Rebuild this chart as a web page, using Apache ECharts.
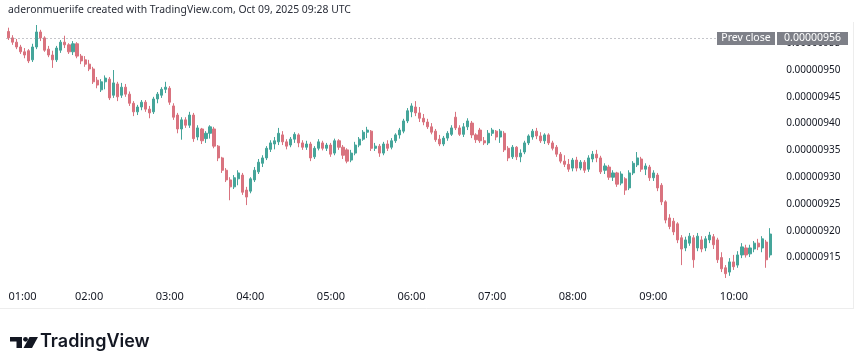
<!DOCTYPE html>
<html><head><meta charset="utf-8">
<script src="https://cdn.jsdelivr.net/npm/echarts@6/dist/echarts.min.js"></script>
<style>html,body{margin:0;padding:0;background:#fff}#c{width:860px;height:362px}</style>
</head><body><div id="c"></div>
<script>
// prices stored in units of 0.00000001
const SCALE = 1e-8;
const PREV_CLOSE = 956;
const titleText = 'aderonmueriife created with TradingView.com, Oct 09, 2025 09:28 UTC';
const START_HOUR = 1, STEP_MIN = 3, N = 190;

const open = [957.2,956.0,955.2,954.3,953.4,953.6,951.9,954.3,957.1,956.0,
953.9,952.8,951.9,953.7,955.2,954.7,953.4,954.9,952.6,951.9,
951.1,950.2,948.1,946.3,947.8,948.3,945.3,947.4,945.3,946.8,
945.5,943.8,942.2,943.1,944.0,942.7,942.2,944.6,945.3,946.4,
946.6,943.3,941.6,939.0,940.7,939.7,941.6,937.5,939.0,937.2,
938.2,939.0,935.8,933.6,931.3,929.5,928.2,929.7,930.4,927.6,
927.4,929.5,931.0,932.6,933.6,935.2,936.2,936.6,937.9,936.6,
936.0,937.1,937.9,936.4,935.6,936.2,933.8,935.4,936.4,935.4,
936.0,934.5,936.8,935.6,935.1,933.2,934.5,936.0,937.1,938.4,
938.6,935.4,935.8,934.5,936.2,935.6,936.8,937.9,938.6,940.5,
942.2,943.1,942.0,941.0,940.3,939.4,938.6,937.1,936.2,937.3,
938.0,941.2,939.2,938.0,939.4,940.1,937.9,938.8,936.8,936.4,
938.2,938.6,937.5,938.2,935.4,933.8,935.6,933.8,934.7,936.4,
937.5,938.6,937.7,936.8,937.9,936.4,935.6,934.3,933.0,932.4,
931.7,933.2,931.7,932.8,931.5,933.4,934.3,933.6,931.3,931.9,
930.0,930.8,928.9,929.7,928.0,930.8,932.3,933.4,931.5,931.9,
929.9,930.4,928.5,925.4,922.4,921.8,921.3,918.7,916.8,917.7,
918.7,916.8,918.3,916.8,918.3,918.9,918.3,915.0,913.1,912.3,
914.2,913.6,915.5,916.8,915.7,916.6,917.7,916.8,917.9,915.5];

const close = [956.0,955.2,954.3,953.4,952.8,951.7,954.3,957.1,956.0,953.7,
952.8,951.9,954.1,955.2,954.7,953.4,954.9,952.6,951.7,951.1,
950.2,947.8,947.2,947.8,948.5,944.8,947.6,945.0,946.8,945.5,
943.8,942.2,943.1,944.0,942.7,942.0,944.6,945.5,946.4,946.8,
944.0,941.2,939.0,940.7,939.7,941.6,937.2,939.2,936.8,938.2,
939.4,935.8,933.6,931.3,929.5,928.2,929.9,930.8,927.2,926.3,
929.7,931.3,932.8,933.6,935.4,936.4,936.8,938.2,936.6,935.8,
937.1,938.0,936.4,935.6,936.2,933.6,935.4,936.6,935.4,936.0,
934.3,936.8,935.6,934.1,933.0,934.5,936.0,937.1,938.4,938.8,
935.4,935.8,934.5,936.2,935.4,936.8,937.9,938.8,940.5,942.4,
943.3,942.0,941.0,940.3,939.4,938.4,937.0,936.2,937.3,938.2,
939.2,939.2,938.0,939.4,940.5,937.9,937.0,936.8,936.4,938.2,
938.8,937.5,938.6,935.1,933.6,935.6,933.8,934.5,936.4,937.7,
938.6,937.7,936.8,937.9,936.4,935.4,934.3,933.0,932.4,931.5,
933.2,931.7,932.8,931.3,933.6,934.3,933.6,931.0,932.1,930.0,
930.8,928.7,930.6,927.6,930.8,932.6,933.6,931.5,932.1,929.9,
930.8,928.0,925.4,922.0,920.8,919.8,918.3,916.6,918.3,919.0,
914.6,919.0,916.6,918.5,919.2,917.4,914.6,912.9,912.0,914.2,
913.3,915.5,917.0,915.5,916.8,917.7,917.0,918.5,914.6,919.4];

const low = [955.6,954.7,953.9,953.0,952.2,951.3,951.5,953.9,955.4,953.4,
952.4,950.4,951.5,953.2,954.1,953.0,952.8,952.2,951.1,950.6,
949.8,947.4,946.6,945.9,946.4,944.4,944.8,944.2,944.8,945.0,
943.3,941.4,941.6,942.5,942.2,941.0,941.8,943.8,944.8,945.7,
943.5,940.7,938.2,937.0,939.2,939.2,936.6,936.9,936.2,936.4,
937.2,935.4,933.0,930.8,929.1,925.7,927.8,928.5,926.7,924.8,
927.0,929.1,930.6,931.9,933.2,934.7,935.2,936.0,936.0,935.2,
935.6,936.4,935.6,935.1,935.1,933.0,933.4,935.0,935.0,934.9,
933.8,934.1,935.1,933.4,932.6,932.8,934.1,935.6,936.8,937.3,
934.9,934.9,933.8,934.1,934.9,935.2,936.4,937.2,938.2,940.1,
941.2,941.4,940.3,939.7,939.0,938.0,936.6,935.8,935.8,936.8,
937.7,938.8,937.7,937.5,938.8,937.3,936.4,936.4,936.0,936.0,
937.7,936.9,936.4,934.7,933.0,933.4,933.2,932.8,934.3,936.0,
937.0,937.1,936.4,936.2,936.0,935.0,933.8,932.6,931.9,931.0,
931.1,931.1,931.3,930.8,931.0,932.8,932.8,930.6,930.6,929.5,
929.3,928.2,928.5,926.7,927.6,930.4,931.9,931.0,930.4,929.3,
929.3,927.4,924.8,921.4,920.3,919.2,917.7,913.6,916.2,917.2,
913.1,916.2,916.0,916.2,917.7,916.6,914.0,912.3,911.2,911.6,
912.7,913.1,914.9,915.0,915.1,916.0,916.4,916.0,913.1,915.0];

const high = [957.9,956.5,955.8,954.7,954.1,953.9,954.9,958.4,957.5,956.3,
954.5,953.6,954.5,955.6,956.4,955.0,955.4,955.2,953.0,952.6,
951.9,950.6,948.7,948.3,949.0,948.7,950.0,947.8,947.6,947.4,
946.0,944.2,943.5,944.4,944.4,943.3,945.0,945.9,946.8,947.8,
947.0,943.8,942.0,941.2,941.2,942.2,942.0,939.7,939.2,938.6,
939.7,939.4,936.0,933.8,931.7,930.0,930.4,931.3,930.8,928.2,
930.0,931.9,933.4,934.1,935.8,936.9,937.5,939.2,938.6,937.1,
937.5,938.4,938.2,936.9,936.8,936.6,935.8,937.1,936.8,936.4,
936.4,937.2,937.1,936.0,935.4,935.1,936.6,937.5,938.8,939.4,
938.8,936.4,936.2,936.6,936.9,937.3,938.2,939.2,940.9,942.9,
943.8,944.2,943.1,941.8,940.9,940.1,939.0,937.9,937.7,938.6,
939.7,942.2,939.7,940.1,941.0,940.5,938.2,939.2,937.5,938.8,
939.2,938.8,939.0,938.6,935.8,936.0,935.8,935.2,936.8,938.0,
939.0,939.2,938.4,938.2,938.2,936.8,936.0,934.7,934.1,933.4,
933.6,933.8,933.2,933.2,934.1,934.9,935.1,934.0,932.6,932.3,
931.3,931.0,931.1,930.0,931.3,933.0,934.7,933.8,932.6,932.3,
931.3,930.8,928.9,925.7,923.1,922.4,921.6,919.2,918.9,919.6,
919.2,919.6,919.0,919.0,919.8,919.4,918.7,916.0,913.6,914.9,
915.5,916.2,917.7,917.4,917.4,918.1,918.5,919.0,918.3,920.5];

const pad = n => (n < 10 ? '0' : '') + n;
const times = [];
for (let i = 0; i < N; i++) {
  const m = START_HOUR * 60 + i * STEP_MIN;
  times.push(pad(Math.floor(m / 60)) + ':' + pad(m % 60));
}
const candles = open.map((o, i) => [o, close[i], low[i], high[i]]);

const W = 860, H = 362;
const gridLeft = 6.5, band = 4.03;
const gridRight = W - gridLeft - band * N;
const gridTop = 21.8, gridBottom = H - 284.4;

const chart = echarts.init(document.getElementById('c'), null, {renderer: 'canvas'});
const FONT = '"Noto Sans", "Open Sans", sans-serif';
const UP = '#45a59a', DOWN = '#d9737f';

chart.setOption({
  animation: false,
  backgroundColor: '#ffffff',
  grid: {left: gridLeft, right: gridRight, top: gridTop, bottom: gridBottom, containLabel: false},
  xAxis: {
    type: 'category', data: times, boundaryGap: true,
    axisLine: {show: false}, axisTick: {show: false}, splitLine: {show: false},
    axisLabel: {
      interval: (idx, val) => val.endsWith(':00'),
      color: '#131722', fontSize: 11, fontFamily: FONT, margin: 7,
      alignMinLabel: 'left'
    }
  },
  yAxis: {
    type: 'value', position: 'right', min: 910, max: 959, interval: 5, scale: true,
    axisLine: {show: false}, axisTick: {show: false}, splitLine: {show: false},
    axisLabel: {
      color: '#131722', fontSize: 10, fontFamily: FONT, margin: 14,
      formatter: v => (Math.abs(v - Math.round(v / 5) * 5) < 0.01 && v >= 915 && v <= 955) ? (v * SCALE).toFixed(8) : ''
    }
  },
  series: [{
    type: 'candlestick', data: candles, barWidth: 2.6,
    itemStyle: {color: UP, color0: DOWN, borderColor: UP, borderColor0: DOWN, borderWidth: 1},
    markLine: {
      silent: true, symbol: 'none', animation: false,
      lineStyle: {type: [1, 3], color: '#8a8d96', width: 1},
      label: {show: false},
      data: [{yAxis: PREV_CLOSE}]
    }
  }]
});

const yPrev = chart.convertToPixel({yAxisIndex: 0}, PREV_CLOSE);
chart.setOption({
  graphic: [
    {type: 'text', left: 8, top: 5, z: 10, style: {text: titleText, fill: '#2a2e39', font: '10.4px ' + FONT}},
    {type: 'rect', z: 20, shape: {x: 717, y: Math.round(yPrev) - 6, width: 58, height: 13}, style: {fill: '#7e8088'}},
    {type: 'text', z: 21, x: 746, y: Math.round(yPrev) + 0.5, style: {text: 'Prev close', fill: '#ffffff', font: '10.5px ' + FONT, textAlign: 'center', textVerticalAlign: 'middle'}},
    {type: 'rect', z: 20, shape: {x: 777, y: Math.round(yPrev) - 6, width: 71, height: 13}, style: {fill: '#7e8088'}},
    {type: 'text', z: 21, x: 812.5, y: Math.round(yPrev) + 0.5, style: {text: (PREV_CLOSE * SCALE).toFixed(8), fill: '#ffffff', font: '10.5px ' + FONT, textAlign: 'center', textVerticalAlign: 'middle'}},
    {type: 'line', z: 5, shape: {x1: 0, y1: 308.5, x2: 853, y2: 308.5}, style: {stroke: '#ededed', lineWidth: 1}},
    {type: 'line', z: 5, shape: {x1: 853.5, y1: 22, x2: 853.5, y2: 309}, style: {stroke: '#ededed', lineWidth: 1}},
    // TradingView logo
    {type: 'rect', z: 10, shape: {x: 10, y: 337, width: 12, height: 4.5}, style: {fill: '#131722'}},
    {type: 'rect', z: 10, shape: {x: 16.5, y: 337, width: 5.5, height: 11}, style: {fill: '#131722'}},
    {type: 'circle', z: 10, shape: {cx: 25.5, cy: 339.3, r: 2.4}, style: {fill: '#131722'}},
    {type: 'polygon', z: 10, shape: {points: [[29.5, 337], [38, 337], [32, 348], [23.5, 348]]}, style: {fill: '#131722'}},
    {type: 'text', z: 10, left: 40, top: 333, style: {text: 'TradingView', fill: '#131722', font: '600 18px Inter, ' + FONT}}
  ]
});
</script>
</body></html>
